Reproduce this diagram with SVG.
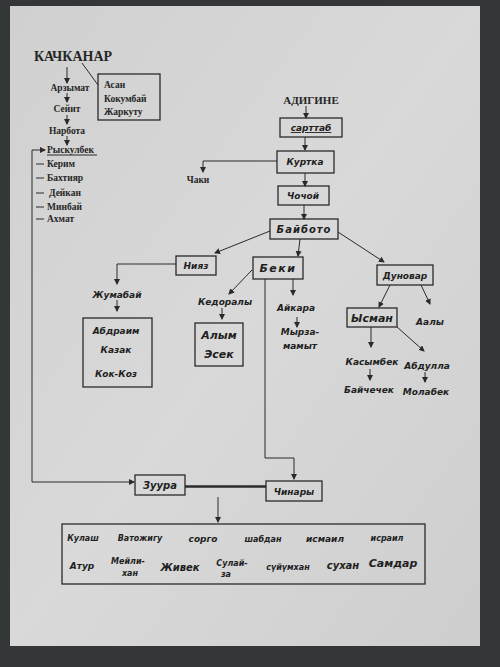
<svg xmlns="http://www.w3.org/2000/svg" width="500" height="667" viewBox="0 0 500 667">
<defs>
<marker id="ah" markerWidth="6" markerHeight="6" refX="5" refY="3" orient="auto" markerUnits="userSpaceOnUse"><path d="M0,0 L6,3 L0,6 Z" fill="#2a2a2a"/></marker>
<linearGradient id="pg" x1="0" y1="0" x2="1" y2="1"><stop offset="0" stop-color="#cfd0cf"/><stop offset="0.5" stop-color="#d8d9d8"/><stop offset="1" stop-color="#cdcecd"/></linearGradient>
</defs>
<style>
.p{font-family:"Liberation Serif",serif;font-weight:bold;fill:#262626;font-size:9.5px}
.t{font-family:"Liberation Serif",serif;font-weight:bold;fill:#262626;font-size:14px}
.h{font-family:"DejaVu Sans","Liberation Sans",sans-serif;font-style:italic;font-weight:bold;fill:#1f1f1f;font-size:9px}
.b{fill:none;stroke:#2a2a2a;stroke-width:1.3}
.c{fill:none;stroke:#2a2a2a;stroke-width:1}
.ca{fill:none;stroke:#2a2a2a;stroke-width:1;marker-end:url(#ah)}
</style>
<rect width="500" height="667" fill="#343738"/>
<rect x="10" y="6" width="470" height="640" fill="url(#pg)"/>
<g id="connectors">
<path class="ca" d="M67,67 V83"/>
<path class="c" d="M82,63 L98,85"/>
<path class="ca" d="M67,93 V102"/>
<path class="ca" d="M67,115 V124"/>
<path class="ca" d="M67,136 V145"/>
<path class="ca" d="M32,482 V150 H45"/>
<path class="ca" d="M32,482 H134"/>
<path class="c" d="M36,164 H44 M36,178 H44 M36,193 H44 M36,207 H44 M36,219 H44"/>
<path class="ca" d="M306,106 V118"/>
<path class="ca" d="M305,137 V150"/>
<path class="ca" d="M277,161 H203 V172"/>
<path class="ca" d="M305,173 V186"/>
<path class="ca" d="M304,205 V219"/>
<path class="ca" d="M270,231 L215,253"/>
<path class="ca" d="M300,239 L298,256"/>
<path class="ca" d="M338,232 L384,262"/>
<path class="ca" d="M176,264 H117 V284"/>
<path class="ca" d="M117,300 V311"/>
<path class="ca" d="M252,270 L229,294"/>
<path class="ca" d="M222,308 V319"/>
<path class="ca" d="M293,279 V295"/>
<path class="ca" d="M297,317 V327"/>
<path class="ca" d="M265,279 V458 H294 V479"/>
<path class="ca" d="M390,285 L379,307"/>
<path class="ca" d="M421,285 L430,304"/>
<path class="ca" d="M371,327 V347"/>
<path class="ca" d="M397,327 L424,351"/>
<path class="ca" d="M370,369 V380"/>
<path class="ca" d="M425,372 V382"/>
<path fill="none" stroke="#2a2a2a" stroke-width="2.6" d="M185,486.5 H266"/>
<path class="ca" d="M218,497 V522"/>
</g>
<g id="kachkanar"><text class="t" x="73" y="61" text-anchor="middle">КАЧКАНАР</text></g>
<g id="arzymat"><text class="p" x="70" y="91" text-anchor="middle">Арзымат</text></g>
<g id="asan-group"><rect class="b" x="98" y="74" width="62" height="46"/>
<text class="p" x="104" y="88">Асан</text><text class="p" x="104" y="102">Кокумбай</text><text class="p" x="104" y="115">Жаркуту</text></g>
<g id="seyit"><text class="p" x="67" y="112" text-anchor="middle">Сейит</text></g>
<g id="narbota"><text class="p" x="67" y="134" text-anchor="middle">Нарбота</text></g>
<g id="ryskulbek"><text class="p" x="47" y="153">Рыскулбек</text><path class="c" d="M47,155 H97"/></g>
<g id="kerim"><text class="p" x="47" y="167">Керим</text></g>
<g id="bakhtiyar"><text class="p" x="47" y="181">Бахтияр</text></g>
<g id="deykan"><text class="p" x="49" y="196">Дейкан</text></g>
<g id="minbay"><text class="p" x="47" y="210">Минбай</text></g>
<g id="akhmat"><text class="p" x="47" y="222">Ахмат</text></g>
<g id="adigine"><text class="p" x="311" y="104" text-anchor="middle" style="font-size:11px">АДИГИНЕ</text></g>
<g id="sarttab"><rect class="b" x="280" y="118" width="62" height="19"/><text class="h" x="311" y="131" text-anchor="middle" text-decoration="underline">сарттаб</text></g>
<g id="kurtka"><rect class="b" x="277" y="151" width="57" height="22"/><text class="h" x="305" y="165" text-anchor="middle">Куртка</text></g>
<g id="chaki"><text class="p" x="198" y="183" text-anchor="middle">Чаки</text></g>
<g id="chochoy"><rect class="b" x="278" y="186" width="51" height="19"/><text class="h" x="303" y="199" text-anchor="middle">Чочой</text></g>
<g id="bayboto"><rect class="b" x="270" y="219" width="68" height="20"/><text class="h" x="304" y="233" text-anchor="middle" style="font-size:10px;letter-spacing:1px">Байбото</text></g>
<g id="niyaz"><rect class="b" x="176" y="256" width="40" height="19"/><text class="h" x="196" y="269" text-anchor="middle">Нияз</text></g>
<g id="zhumabay"><text class="h" x="117" y="298" text-anchor="middle">Жумабай</text></g>
<g id="abdraim-group"><rect class="b" x="83" y="318" width="69" height="69"/>
<text class="h" x="116" y="334" text-anchor="middle">Абдраим</text><text class="h" x="116" y="353" text-anchor="middle">Казак</text><text class="h" x="116" y="377" text-anchor="middle">Кок-Коз</text></g>
<g id="beki"><rect class="b" x="253" y="257" width="50" height="22"/><text class="h" x="278" y="272" text-anchor="middle" style="font-size:11px;letter-spacing:1.5px">Беки</text></g>
<g id="kedoraly"><text class="h" x="225" y="305" text-anchor="middle">Кедоралы</text></g>
<g id="alym-group"><rect class="b" x="195" y="323" width="48" height="43"/>
<text class="h" x="219" y="339" text-anchor="middle" style="font-size:11px">Алым</text><text class="h" x="219" y="358" text-anchor="middle" style="font-size:11px">Эсек</text></g>
<g id="aykara"><text class="h" x="296" y="311" text-anchor="middle">Айкара</text></g>
<g id="myrza-mamyt"><text class="h" x="300" y="335" text-anchor="middle">Мырза-</text><text class="h" x="300" y="349" text-anchor="middle">мамыт</text></g>
<g id="dunovar"><rect class="b" x="377" y="265" width="56" height="20"/><text class="h" x="405" y="279" text-anchor="middle">Дуновар</text></g>
<g id="ysman"><rect class="b" x="347" y="308" width="50" height="19"/><text class="h" x="372" y="322" text-anchor="middle" style="font-size:11px">Ысман</text></g>
<g id="aaly"><text class="h" x="430" y="325" text-anchor="middle">Аалы</text></g>
<g id="kasymbek"><text class="h" x="372" y="365" text-anchor="middle">Касымбек</text></g>
<g id="baychechek"><text class="h" x="369" y="393" text-anchor="middle">Байчечек</text></g>
<g id="abdulla"><text class="h" x="427" y="369" text-anchor="middle">Абдулла</text></g>
<g id="molabek"><text class="h" x="426" y="395" text-anchor="middle">Молабек</text></g>
<g id="zuura"><rect class="b" x="135" y="475" width="50" height="20"/><text class="h" x="160" y="489" text-anchor="middle" style="font-size:10px">Зуура</text></g>
<g id="chinary"><rect class="b" x="266" y="481" width="56" height="20"/><text class="h" x="294" y="495" text-anchor="middle">Чинары</text></g>
<g id="children">
<rect class="b" x="62" y="524" width="363" height="60"/>
<text class="h" x="83" y="541" text-anchor="middle" style="font-size:8px">Кулаш</text>
<text class="h" x="140" y="541" text-anchor="middle" style="font-size:8px">Ватожигу</text>
<text class="h" x="203" y="542" text-anchor="middle">сорго</text>
<text class="h" x="263" y="542" text-anchor="middle" style="font-size:8px">шабдан</text>
<text class="h" x="325" y="542" text-anchor="middle">исмаил</text>
<text class="h" x="387" y="541" text-anchor="middle" style="font-size:8px">исраил</text>
<text class="h" x="82" y="569" text-anchor="middle">Атур</text>
<text class="h" x="128" y="564" text-anchor="middle" style="font-size:8px">Мейли-</text>
<text class="h" x="130" y="576" text-anchor="middle" style="font-size:8px">хан</text>
<text class="h" x="180" y="571" text-anchor="middle" style="font-size:10px">Живек</text>
<text class="h" x="232" y="566" text-anchor="middle" style="font-size:8px">Сулай-</text>
<text class="h" x="226" y="577" text-anchor="middle" style="font-size:8px">за</text>
<text class="h" x="288" y="570" text-anchor="middle" style="font-size:8px">сүйүмхан</text>
<text class="h" x="343" y="569" text-anchor="middle" style="font-size:10px">сухан</text>
<text class="h" x="393" y="567" text-anchor="middle" style="font-size:11px">Самдар</text>
</g>
</svg>
